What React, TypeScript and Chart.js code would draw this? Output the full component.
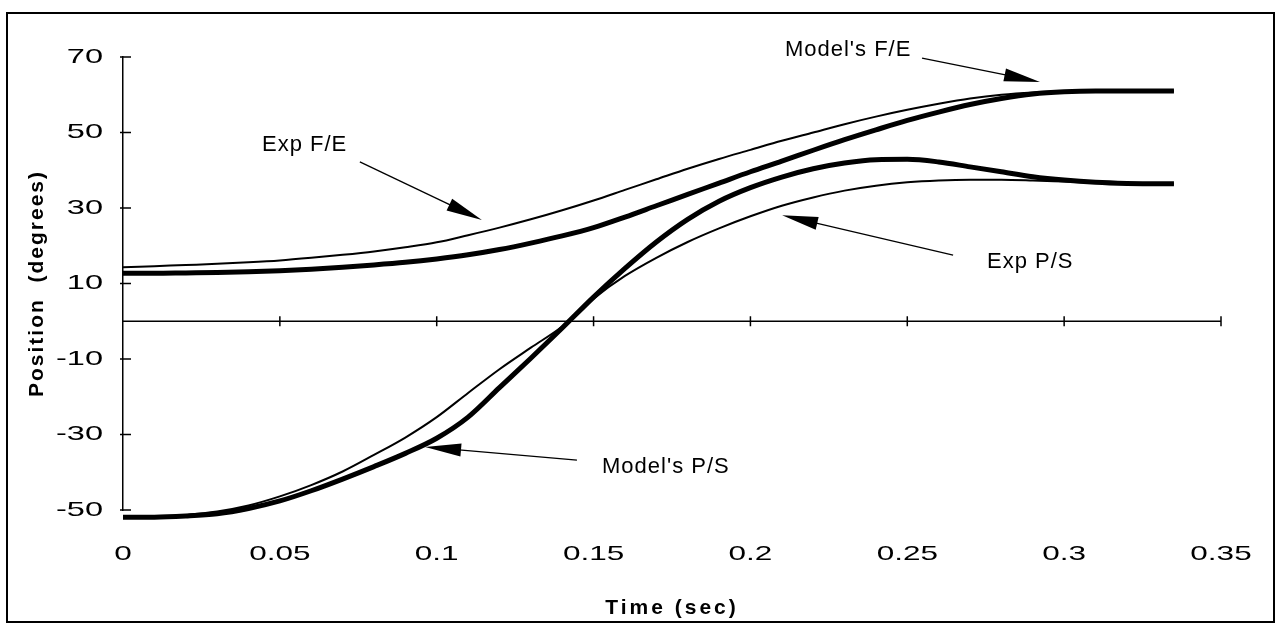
import React, { useEffect, useRef } from 'react';
import { Chart, registerables, LinearScale } from 'chart.js';

Chart.register(...registerables);

// ---------------- data ----------------
const times = [0, 0.01, 0.02, 0.03, 0.04, 0.05, 0.06, 0.07, 0.08, 0.09, 0.1, 0.11, 0.12, 0.13, 0.14, 0.15, 0.16, 0.17, 0.18, 0.19, 0.2, 0.21, 0.22, 0.23, 0.24, 0.25, 0.26, 0.27, 0.28, 0.29, 0.3, 0.31, 0.32, 0.33, 0.335];

const expFE = [14.3, 14.6, 14.9, 15.2, 15.6, 16.1, 16.8, 17.6, 18.5, 19.6, 20.9, 22.8, 24.8, 27.0, 29.4, 32.0, 34.8, 37.6, 40.4, 43.0, 45.4, 47.8, 50.0, 52.2, 54.2, 56.0, 57.6, 59.0, 60.0, 60.6, 60.9, 61.0, 61.0, 61.0, 61.0];

const modelFE = [12.7, 12.7, 12.8, 12.9, 13.1, 13.4, 13.8, 14.3, 14.9, 15.6, 16.5, 17.6, 19.0, 20.7, 22.6, 24.8, 27.6, 30.6, 33.6, 36.6, 39.6, 42.4, 45.3, 48.1, 50.7, 53.2, 55.4, 57.4, 59.0, 60.2, 60.8, 61.0, 61.0, 61.0, 61.0];

const modelPS = [-51.9, -51.9, -51.6, -51.0, -49.6, -47.6, -44.9, -41.8, -38.5, -35.0, -31.0, -25.4, -17.6, -9.8, -1.8, 6.4, 14.0, 21.0, 27.0, 31.8, 35.4, 38.2, 40.4, 41.9, 42.8, 42.9, 42.2, 40.9, 39.6, 38.3, 37.4, 36.8, 36.5, 36.4, 36.4];

const expPS = [-51.9, -51.8, -51.3, -50.4, -48.8, -46.4, -43.4, -39.8, -35.4, -30.8, -25.4, -19.0, -12.7, -7.0, -1.4, 6.0, 12.0, 16.8, 21.0, 24.6, 27.8, 30.6, 32.8, 34.6, 35.9, 36.8, 37.3, 37.5, 37.5, 37.3, 37.0, 36.7, 36.5, 36.4, 36.4];

const xTickLabels = ['0', '0.05', '0.1', '0.15', '0.2', '0.25', '0.3', '0.35'];
const yTickLabels = ['-50', '-30', '-10', '10', '30', '50', '70'];

const xTitle = 'Time (sec)';
const yTitle = 'Position  (degrees)';

// annotation texts with anchor (time, degrees) and arrows (from -> to) in data units
const noteTexts = ["Model's F/E", 'Exp F/E', 'Exp P/S', "Model's P/S"];
const noteAnchors = [[0.211, 71.9], [0.0443, 46.7], [0.2754, 15.7], [0.1527, -38.6]];
const arrowFrom = [[0.2547, 69.7], [0.0755, 42.2], [0.2646, 17.5], [0.1447, -36.8]];
const arrowTo = [[0.2923, 63.4], [0.1144, 26.8], [0.2101, 28.1], [0.0963, -33.3]];

// ---------------- custom scale (wide tick glyphs like the scan) ----------------
const STRETCH: Record<string, number> = { x: 1.5, y: 1.55 };
const TITLE_SPACING: Record<string, string> = { x: '3px', y: '2px' };

class StretchLinear extends LinearScale {
  static id = 'stretchLinear';
  static defaults = LinearScale.defaults;
  drawLabels(chartArea: any) {
    const self: any = this;
    if (!self.options.ticks.display) return;
    const ctx = self.ctx;
    let items: any[];
    try {
      items = self.getLabelItems(chartArea);
    } catch (e) {
      // @ts-ignore
      return super.drawLabels(chartArea);
    }
    const sx = STRETCH[self.id] ?? 1;
    for (const item of items) {
      const o = item.options || {};
      const tr = o.translation || [0, 0];
      ctx.save();
      ctx.translate(tr[0], tr[1]);
      if (o.rotation) ctx.rotate(o.rotation);
      ctx.scale(sx, 1);
      ctx.font = item.font.string;
      ctx.fillStyle = o.color || '#000';
      ctx.textAlign = o.textAlign || 'center';
      ctx.textBaseline = o.textBaseline || 'middle';
      ctx.fillText(String(item.label), 0, item.textOffset || 0);
      ctx.restore();
    }
  }
  drawTitle() {
    const self: any = this;
    const ctx = self.ctx;
    ctx.save();
    ctx.letterSpacing = TITLE_SPACING[self.id] ?? '0px';
    // @ts-ignore
    super.drawTitle();
    ctx.restore();
  }
}
Chart.register(StretchLinear);

const FONT = "'Liberation Sans', Arial, Helvetica, sans-serif";

function drawArrow(ctx: CanvasRenderingContext2D, x1: number, y1: number, x2: number, y2: number) {
  const ang = Math.atan2(y2 - y1, x2 - x1);
  const L = 36;
  const W = 6.5;
  const bx = x2 - L * Math.cos(ang);
  const by = y2 - L * Math.sin(ang);
  ctx.beginPath();
  ctx.moveTo(x1, y1);
  ctx.lineTo(bx + 2 * Math.cos(ang), by + 2 * Math.sin(ang));
  ctx.lineWidth = 1.3;
  ctx.stroke();
  ctx.beginPath();
  ctx.moveTo(x2, y2);
  ctx.lineTo(bx + W * Math.sin(ang), by - W * Math.cos(ang));
  ctx.lineTo(bx - W * Math.sin(ang), by + W * Math.cos(ang));
  ctx.closePath();
  ctx.fill();
}

const decoPlugin = {
  id: 'deco',
  beforeDatasetsDraw(chart: any) {
    const { ctx, chartArea } = chart;
    const xS = chart.scales.x;
    const yS = chart.scales.y;
    ctx.save();
    ctx.strokeStyle = '#000';
    ctx.lineWidth = 1.5;
    const y0 = yS.getPixelForValue(0);
    ctx.beginPath();
    ctx.moveTo(chartArea.left, y0);
    ctx.lineTo(chartArea.right, y0);
    xS.ticks.forEach((t: any) => {
      if (t.value === 0) return;
      const x = xS.getPixelForValue(t.value);
      ctx.moveTo(x, y0 - 5);
      ctx.lineTo(x, y0 + 5);
    });
    yS.ticks.forEach((t: any) => {
      const y = yS.getPixelForValue(t.value);
      ctx.moveTo(chartArea.left - 3, y);
      ctx.lineTo(chartArea.left + 8, y);
    });
    ctx.stroke();
    ctx.restore();
  },
  afterDraw(chart: any) {
    const { ctx } = chart;
    const xS = chart.scales.x;
    const yS = chart.scales.y;
    ctx.save();
    ctx.strokeStyle = '#000';
    ctx.fillStyle = '#000';
    ctx.lineWidth = 2;
    ctx.strokeRect(7, 13, 1267, 609);
    ctx.font = '22px ' + FONT;
    ctx.letterSpacing = '1px';
    ctx.textAlign = 'left';
    ctx.textBaseline = 'middle';
    noteTexts.forEach((txt, i) => {
      const a = noteAnchors[i];
      ctx.fillText(txt, xS.getPixelForValue(a[0]), yS.getPixelForValue(a[1]));
      const f = arrowFrom[i];
      const t = arrowTo[i];
      drawArrow(
        ctx,
        xS.getPixelForValue(f[0]),
        yS.getPixelForValue(f[1]),
        xS.getPixelForValue(t[0]),
        yS.getPixelForValue(t[1])
      );
    });
    ctx.restore();
  },
};

function series(vals: number[]) {
  return times.map((t, i) => ({ x: t, y: vals[i] }));
}

export default function App() {
  const ref = useRef<HTMLCanvasElement | null>(null);
  useEffect(() => {
    if (!ref.current) return;
    Chart.defaults.font.family = FONT;
    Chart.defaults.color = '#000';
    const lineCommon = {
      borderColor: '#000',
      backgroundColor: '#000',
      pointRadius: 0,
      fill: false,
      cubicInterpolationMode: 'monotone' as const,
      clip: false as any,
    };
    const chart = new Chart(ref.current, {
      type: 'line',
      data: {
        datasets: [
          { label: 'Exp F/E', data: series(expFE), borderWidth: 2, ...lineCommon },
          { label: "Model's F/E", data: series(modelFE), borderWidth: 5, ...lineCommon },
          { label: "Model's P/S", data: series(modelPS), borderWidth: 5, ...lineCommon },
          { label: 'Exp P/S', data: series(expPS), borderWidth: 2, ...lineCommon },
        ],
      },
      options: {
        animation: false,
        responsive: false,
        devicePixelRatio: 1,
        layout: { padding: { left: 0, top: 57, right: 59, bottom: 0 } },
        plugins: { legend: { display: false }, tooltip: { enabled: false } },
        scales: {
          x: {
            type: 'stretchLinear' as any,
            min: 0,
            max: 0.35,
            grid: { display: false, drawTicks: false },
            border: { display: false },
            ticks: {
              stepSize: 0.05,
              autoSkip: false,
              maxRotation: 0,
              padding: 32,
              font: { size: 21 },
              color: '#000',
              callback: (_v: any, i: number) => xTickLabels[i],
            },
            title: {
              display: true,
              text: xTitle,
              font: { size: 21, weight: 'bold' },
              color: '#000',
              padding: { top: 0, bottom: 10 },
            },
            afterFit: (s: any) => {
              s.height = 121;
            },
          } as any,
          y: {
            type: 'stretchLinear' as any,
            min: -50,
            max: 70,
            grid: { display: false, drawTicks: false },
            border: { display: true, color: '#000', width: 1.5 },
            ticks: {
              stepSize: 20,
              padding: 20,
              font: { size: 21 },
              color: '#000',
              callback: (_v: any, i: number) => yTickLabels[i],
            },
            title: {
              display: true,
              text: yTitle,
              font: { size: 21, weight: 'bold' },
              color: '#000',
              padding: { top: 25, bottom: 0 },
            },
            afterFit: (s: any) => {
              s.width = 123;
            },
          } as any,
        },
      },
      plugins: [decoPlugin],
    });
    return () => chart.destroy();
  }, []);
  return (
    <canvas
      ref={ref}
      width={1280}
      height={631}
      style={{ position: 'absolute', left: 0, top: 0, display: 'block', background: '#fff' }}
    />
  );
}
